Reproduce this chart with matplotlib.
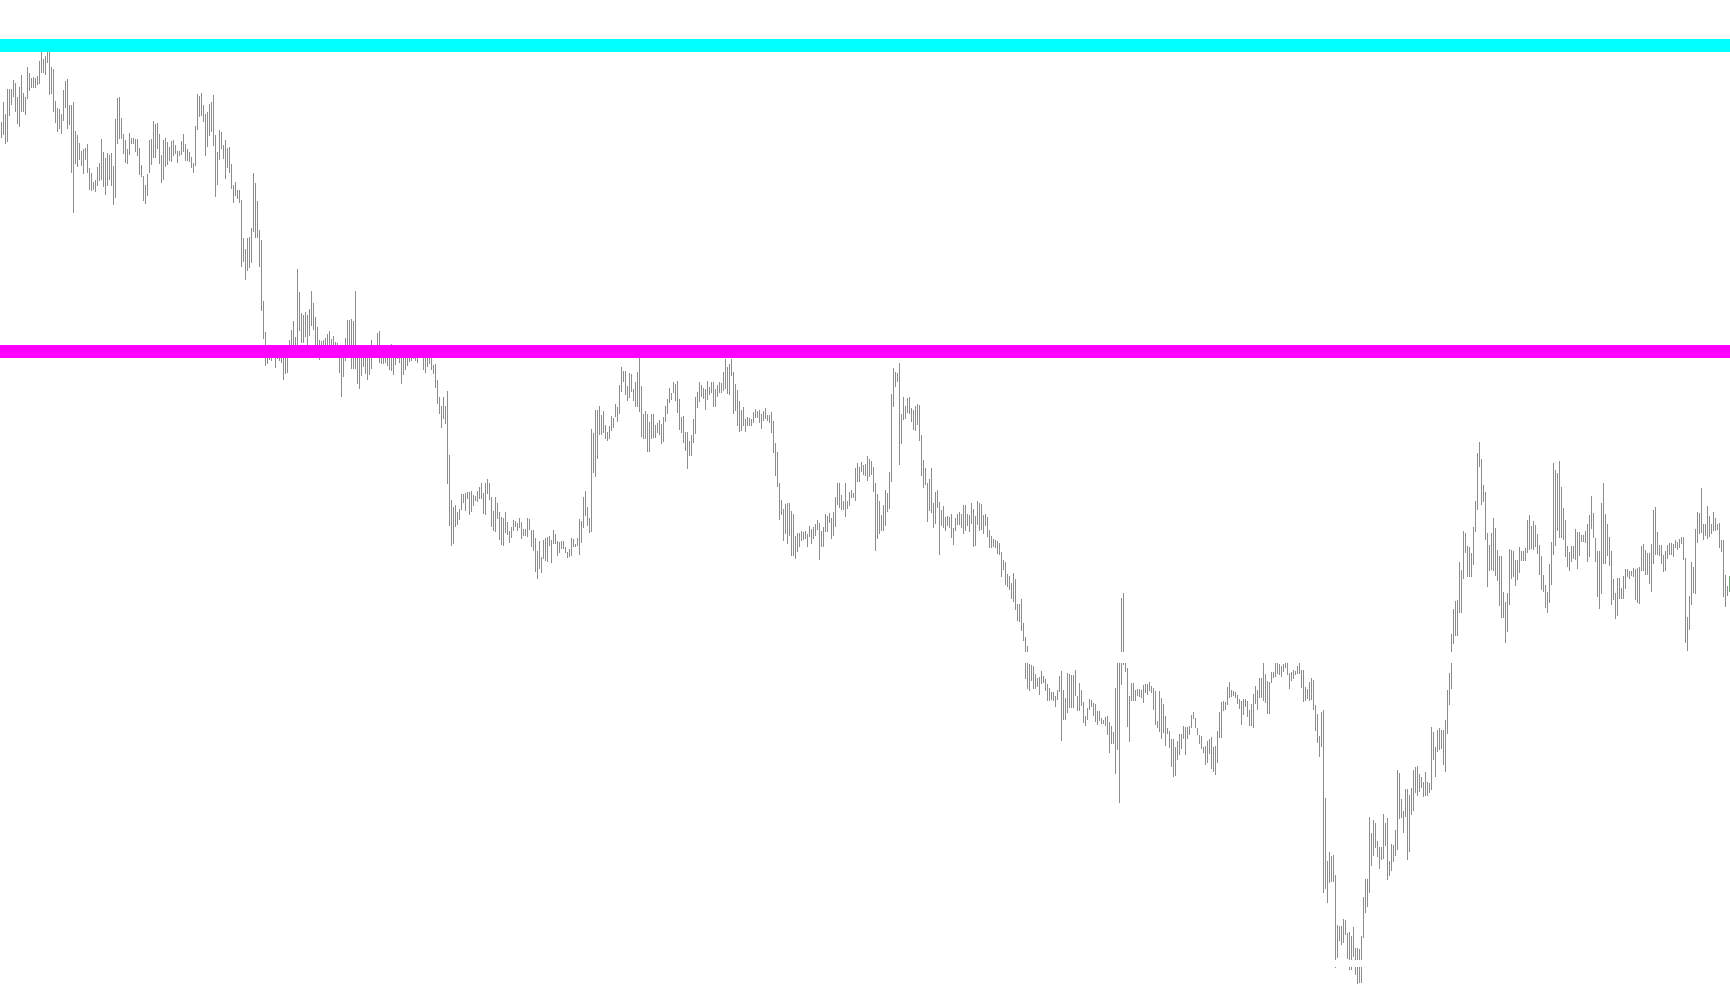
import matplotlib
matplotlib.use('Agg')
from matplotlib import pyplot as plt
import numpy as np

# bar highs / lows (chart points), one bar per session
high = [
    878, 898, 886, 911, 911, 911, 920, 917, 903, 913,
    925, 907, 903, 933, 927, 922, 923, 922, 924, 939,
    949, 941, 944, 953, 948, 933, 931, 899, 892, 891,
    886, 910, 919, 921, 895, 895, 898, 869, 865, 857,
    849, 851, 852, 856, 832, 827, 818, 820, 833, 837,
    861, 848, 842, 847, 845, 847, 834, 881, 902, 903,
    882, 866, 860, 851, 867, 862, 862, 861, 861, 852,
    835, 824, 815, 826, 860, 861, 879, 876, 877, 866,
    845, 860, 862, 858, 853, 859, 860, 855, 849, 849,
    859, 866, 856, 851, 848, 843, 837, 874, 906, 904,
    907, 895, 886, 888, 896, 898, 905, 865, 848, 870,
    868, 855, 860, 852, 853, 836, 815, 818, 810, 810,
    800, 762, 751, 762, 763, 772, 827, 817, 799, 770,
    760, 699, 668, 650, 652, 650, 652, 650, 652, 650,
    650, 648, 648, 654, 660, 670, 679, 663, 731, 708,
    687, 685, 688, 685, 691, 709, 697, 683, 673, 660,
    659, 660, 662, 666, 669, 661, 664, 658, 657, 650,
    650, 650, 662, 680, 680, 681, 679, 709, 650, 650,
    650, 650, 650, 650, 650, 660, 654, 654, 667, 669,
    650, 650, 650, 650, 650, 656, 650, 650, 650, 650,
    650, 650, 650, 650, 650, 650, 650, 650, 650, 654,
    654, 650, 650, 650, 650, 645, 635, 636, 620, 603,
    594, 603, 594, 609, 545, 500, 493, 495, 488, 491,
    506, 506, 507, 508, 508, 509, 505, 504, 509, 513,
    517, 507, 517, 521, 517, 503, 489, 503, 497, 488,
    483, 482, 488, 478, 469, 473, 480, 479, 477, 482,
    478, 471, 471, 482, 481, 470, 470, 462, 449, 459,
    443, 460, 462, 463, 464, 460, 470, 466, 459, 458,
    459, 459, 453, 448, 451, 462, 461, 456, 462, 481,
    479, 503, 509, 493, 482, 571, 567, 590, 590, 594,
    585, 589, 575, 568, 574, 584, 582, 596, 593, 615,
    633, 629, 629, 614, 627, 626, 611, 618, 628, 650,
    614, 586, 589, 586, 578, 586, 586, 575, 577, 580,
    576, 583, 594, 601, 612, 607, 618, 616, 619, 601,
    583, 584, 568, 568, 559, 565, 581, 603, 608, 618,
    615, 612, 611, 619, 613, 618, 618, 611, 615, 618,
    617, 628, 641, 633, 636, 641, 628, 616, 610, 599,
    590, 593, 581, 583, 582, 581, 588, 591, 589, 590,
    586, 589, 592, 585, 585, 588, 579, 557, 548, 517,
    500, 491, 496, 497, 497, 489, 486, 464, 467, 467,
    469, 468, 469, 466, 474, 471, 473, 476, 480, 477,
    469, 473, 486, 484, 487, 482, 488, 503, 517, 517,
    505, 499, 517, 499, 508, 510, 507, 532, 537, 533,
    538, 535, 536, 544, 541, 539, 533, 517, 506, 499,
    485, 495, 510, 507, 528, 606, 632, 628, 627, 637,
    586, 603, 594, 602, 603, 592, 590, 594, 596, 595,
    565, 540, 532, 517, 521, 532, 497, 508, 510, 498,
    490, 494, 483, 484, 483, 486, 472, 482, 486, 488,
    486, 495, 495, 486, 485, 497, 491, 484, 499, 497,
    496, 485, 486, 483, 470, 464, 461, 460, 459, 457,
    448, 440, 438, 426, 424, 417, 427, 421, 396, 396,
    401, 377, 363, 354, 336, 335, 334, 326, 322, 323,
    329, 324, 321, 316, 312, 308, 308, 304, 310, 324,
    329, 310, 302, 327, 326, 325, 325, 330, 304, 317,
    310, 298, 284, 292, 301, 300, 297, 296, 289, 289,
    282, 280, 283, 284, 278, 274, 268, 312, 345, 345,
    402, 407, 345, 332, 304, 317, 317, 310, 311, 311,
    310, 315, 316, 316, 318, 314, 312, 309, 279, 309,
    302, 296, 284, 272, 269, 261, 261, 253, 259, 266,
    266, 274, 273, 273, 274, 285, 288, 282, 272, 265,
    264, 253, 254, 259, 261, 263, 253, 254, 269, 288,
    298, 299, 298, 313, 318, 310, 309, 308, 305, 301,
    299, 301, 301, 299, 290, 296, 306, 314, 310, 322,
    322, 338, 326, 319, 318, 328, 328, 338, 338, 336,
    334, 336, 337, 338, 327, 328, 330, 329, 334, 338,
    330, 330, 313, 311, 318, 322, 320, 295, 286, 264,
    288, 290, 202, 139, 148, 144, 145, 125, 75, 74,
    74, 81, 80, 67, 68, 64, 73, 52, 52, 51,
    64, 103, 121, 121, 183, 167, 180, 177, 159, 153,
    153, 186, 177, 182, 139, 156, 155, 170, 230, 227,
    201, 189, 211, 211, 205, 212, 230, 233, 234, 226,
    223, 218, 228, 218, 217, 273, 268, 253, 270, 272,
    270, 270, 280, 310, 327, 366, 391, 399, 400, 438,
    430, 469, 467, 454, 453, 447, 473, 499, 547, 558,
    541, 515, 508, 467, 455, 467, 482, 472, 450, 444,
    444, 408, 398, 407, 451, 450, 449, 440, 440, 453,
    449, 449, 452, 480, 485, 474, 479, 475, 466, 455,
    444, 425, 415, 408, 436, 458, 537, 530, 527, 539,
    513, 492, 480, 454, 448, 454, 454, 471, 468, 468,
    465, 465, 469, 476, 485, 504, 487, 462, 449, 449,
    497, 517, 486, 476, 463, 449, 421, 407, 422, 422,
    412, 424, 431, 431, 429, 429, 432, 431, 432, 433,
    454, 456, 450, 447, 447, 456, 490, 493, 468, 455,
    455, 445, 449, 455, 457, 457, 456, 460, 458, 461,
    463, 463, 442, 383, 404, 438, 433, 471, 488, 487,
    512, 476, 476, 494, 484, 476, 488, 482, 476, 477,
    460, 460, 425, 414, 424,
]

low = [
    862, 865, 856, 858, 884, 895, 903, 888, 876, 873,
    888, 888, 885, 901, 909, 912, 912, 912, 915, 916,
    927, 927, 925, 937, 905, 906, 888, 877, 868, 871,
    866, 879, 892, 871, 875, 827, 787, 836, 833, 840,
    834, 826, 840, 827, 810, 809, 810, 808, 814, 819,
    820, 813, 805, 814, 820, 814, 795, 802, 856, 861,
    861, 846, 837, 836, 845, 856, 856, 848, 844, 825,
    823, 799, 796, 804, 827, 835, 842, 842, 851, 836,
    817, 820, 833, 835, 839, 838, 844, 846, 837, 844,
    845, 848, 839, 839, 838, 832, 827, 834, 870, 883,
    884, 878, 844, 853, 864, 868, 854, 803, 815, 840,
    851, 841, 821, 832, 827, 811, 797, 804, 801, 797,
    733, 738, 720, 729, 732, 737, 768, 762, 762, 733,
    689, 661, 634, 636, 640, 639, 643, 632, 641, 639,
    637, 620, 626, 627, 650, 648, 650, 645, 652, 669,
    657, 657, 663, 652, 664, 674, 670, 648, 642, 640,
    648, 648, 650, 650, 650, 648, 650, 648, 650, 627,
    603, 623, 639, 650, 650, 631, 631, 631, 616, 611,
    624, 633, 626, 620, 625, 631, 646, 646, 650, 637,
    636, 636, 637, 634, 630, 629, 625, 635, 641, 637,
    616, 625, 630, 634, 638, 639, 641, 639, 637, 644,
    644, 630, 627, 633, 636, 630, 626, 612, 596, 586,
    572, 581, 576, 516, 474, 454, 456, 473, 475, 480,
    490, 497, 489, 501, 485, 488, 494, 499, 498, 501,
    501, 486, 485, 506, 500, 473, 469, 468, 481, 460,
    455, 454, 467, 465, 457, 462, 469, 473, 469, 472,
    461, 464, 464, 463, 470, 453, 449, 428, 421, 431,
    427, 441, 439, 438, 454, 437, 456, 456, 444, 447,
    451, 451, 447, 442, 443, 444, 453, 453, 454, 445,
    457, 472, 484, 474, 467, 468, 527, 523, 541, 565,
    565, 567, 561, 559, 561, 569, 572, 583, 578, 586,
    608, 618, 605, 599, 602, 608, 599, 593, 593, 588,
    563, 561, 561, 548, 548, 561, 562, 562, 567, 565,
    556, 558, 578, 586, 597, 600, 607, 599, 587, 570,
    567, 557, 549, 531, 544, 544, 557, 566, 592, 598,
    603, 601, 590, 600, 605, 607, 593, 593, 603, 607,
    607, 609, 611, 606, 605, 624, 586, 589, 574, 568,
    569, 574, 568, 574, 574, 574, 577, 582, 582, 577,
    571, 579, 581, 579, 577, 567, 547, 524, 513, 480,
    485, 459, 466, 456, 464, 444, 444, 441, 448, 453,
    459, 460, 461, 453, 463, 456, 461, 464, 470, 440,
    453, 453, 468, 468, 477, 461, 464, 473, 495, 492,
    490, 490, 483, 491, 494, 502, 502, 499, 518, 518,
    528, 525, 524, 519, 523, 525, 508, 449, 461, 466,
    469, 469, 474, 488, 491, 518, 593, 613, 618, 535,
    556, 580, 581, 587, 586, 578, 570, 569, 575, 559,
    524, 512, 515, 478, 489, 487, 472, 476, 492, 445,
    474, 472, 469, 474, 472, 462, 455, 469, 475, 475,
    472, 466, 469, 474, 468, 476, 453, 454, 475, 469,
    470, 466, 474, 463, 452, 452, 453, 452, 446, 445,
    423, 430, 415, 413, 410, 401, 398, 390, 379, 378,
    369, 359, 321, 311, 309, 319, 311, 311, 313, 305,
    316, 317, 309, 299, 299, 300, 299, 293, 300, 308,
    259, 280, 280, 287, 292, 292, 292, 304, 289, 289,
    294, 277, 274, 280, 290, 293, 284, 278, 275, 279,
    276, 276, 274, 265, 247, 256, 256, 226, 250, 197,
    315, 335, 328, 273, 258, 299, 299, 299, 304, 303,
    302, 297, 307, 305, 309, 307, 290, 275, 272, 268,
    261, 267, 254, 266, 252, 233, 223, 224, 240, 245,
    251, 261, 245, 261, 265, 272, 281, 272, 265, 256,
    251, 247, 235, 237, 246, 231, 228, 225, 237, 262,
    262, 289, 290, 295, 302, 303, 304, 302, 296, 291,
    275, 285, 293, 283, 274, 274, 272, 296, 290, 302,
    302, 299, 297, 286, 286, 317, 322, 323, 326, 325,
    323, 328, 332, 325, 311, 319, 321, 325, 326, 326,
    312, 298, 299, 301, 299, 300, 290, 269, 257, 243,
    253, 107, 111, 97, 117, 118, 118, 32, 42, 59,
    55, 57, 65, 41, 30, 30, 43, 25, 16, 17,
    17, 62, 87, 93, 107, 134, 144, 152, 143, 131,
    140, 141, 154, 120, 124, 129, 138, 144, 150, 181,
    182, 167, 183, 140, 148, 185, 189, 207, 204, 208,
    212, 203, 204, 204, 207, 210, 240, 223, 248, 250,
    251, 235, 228, 266, 295, 311, 356, 364, 364, 387,
    387, 421, 447, 423, 423, 423, 435, 468, 490, 533,
    495, 498, 460, 413, 429, 430, 429, 424, 419, 394,
    382, 382, 357, 368, 395, 421, 423, 414, 420, 427,
    439, 439, 439, 447, 450, 451, 450, 453, 446, 425,
    410, 408, 392, 387, 397, 415, 445, 454, 469, 462,
    462, 460, 443, 433, 429, 438, 441, 440, 431, 444,
    458, 458, 457, 438, 443, 471, 462, 438, 403, 391,
    406, 436, 436, 444, 434, 395, 400, 381, 384, 401,
    401, 401, 411, 423, 421, 424, 423, 400, 397, 396,
    429, 429, 425, 425, 416, 408, 436, 445, 445, 444,
    436, 428, 429, 441, 445, 445, 443, 452, 450, 452,
    456, 440, 357, 349, 370, 395, 407, 406, 457, 466,
    467, 460, 464, 461, 463, 466, 469, 469, 470, 452,
    448, 403, 393, 404, 408,
]

# horizontal levels drawn over the bars
level_prices = [955.5, 649.5]
level_colors = ['#00ffff', '#ff00ff']
# levels coloured like the background (only visible as gaps in the bars)
hidden_prices = [343.5, 37.5]

assert len(high) == len(low)

px = 0.72  # one pixel in points at dpi=100

fig = plt.figure(figsize=(17.3, 10.05), dpi=100)
ax = fig.add_axes([0, 0, 1, 1])
ax.axis('off')

x = np.arange(len(high))
h = np.array(high)
l = np.array(low)
# each bar is one pixel wide (half an x unit, since bars sit 2 px apart)
ax.bar(x, h - l, bottom=l, width=0.5, color='#19dd19', linewidth=0, zorder=2)

for p, c in zip(level_prices, level_colors):
    ax.axhline(p, color=c, linewidth=11 * px, antialiased=False, zorder=3)
    # dotted fringe on both edges of the thick line
    ax.axhline(p + 6, color=c, linewidth=px, linestyle=(0, (1, 1)), antialiased=False, zorder=3)
    ax.axhline(p - 6, color=c, linewidth=px, linestyle=(1, (1, 1)), antialiased=False, zorder=3)

ax.axhline(hidden_prices[0], color='white', linewidth=11 * px, zorder=3)
ax.axhline(hidden_prices[1], color='white', linewidth=7 * px, zorder=3)

ax.set_xlim(-0.75, len(high) - 0.75)
ax.set_ylim(-5, 1000)

plt.savefig('out.png', dpi=100, facecolor='white')
